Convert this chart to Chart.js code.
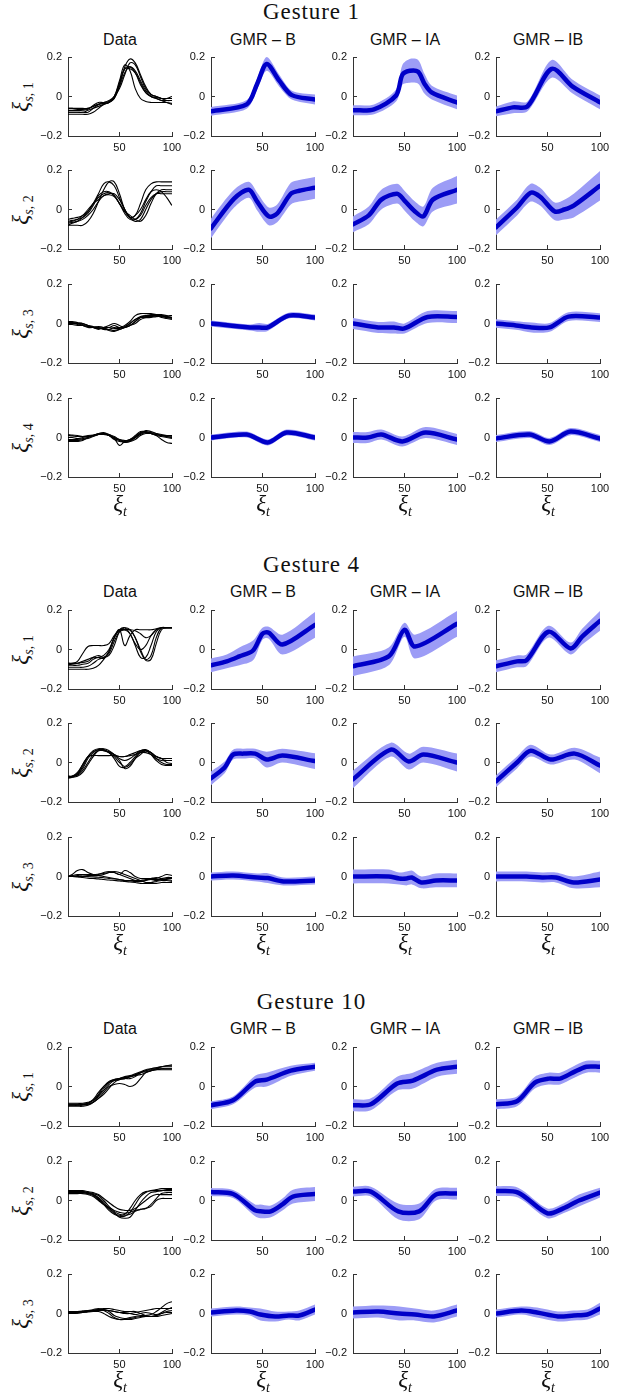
<!DOCTYPE html>
<html><head><meta charset="utf-8">
<script src="https://cdn.jsdelivr.net/npm/chart.js@4"></script>
<style>
body{margin:0;background:#fff;}
#page{position:relative;width:623px;height:1397px;overflow:hidden;background:#fff;}
canvas{position:absolute;}
.gt{position:absolute;font-family:'Liberation Serif','DejaVu Serif',serif;font-size:23px;letter-spacing:0.9px;transform:translate(-50%,-50%);white-space:nowrap;color:#111;}
.ct{position:absolute;font-family:'Liberation Sans',Arial,sans-serif;font-size:16px;transform:translate(-50%,-50%);white-space:nowrap;color:#111;}
.yl{position:absolute;font-family:'Liberation Serif',serif;font-size:23px;transform:translate(-50%,-50%) rotate(-90deg);white-space:nowrap;color:#111;line-height:24px;}
.xl{position:absolute;font-family:'Liberation Serif',serif;font-size:23px;transform:translate(-50%,-50%);white-space:nowrap;color:#111;line-height:24px;}
.sub{font-size:14px;position:relative;top:5px;font-style:normal;}
i{font-style:italic;}
</style></head>
<body><div id="page"></div>
<script>
// ---------- shared axis values ----------
const XTICKS = [50, 100];
const YTICKS = [-0.2, 0, 0.2];
const COLUMNS = ['Data', 'GMR \u2013 B', 'GMR \u2013 IA', 'GMR \u2013 IB'];
const GESTURES = ['Gesture 1', 'Gesture 4', 'Gesture 10'];
const DX = [1,5,10,15,20,25,30,35,40,45,50,55,60,65,70,75,80,85,90,95,100];

// ---------- Gesture 1 demonstrations ----------
const G1_DATA_1 = [
 [-0.06,-0.06,-0.06,-0.06,-0.06,-0.05,-0.04,-0.035,-0.03,-0.01,0.06,0.15,0.19,0.17,0.11,0.05,0.01,0.0,-0.01,-0.01,-0.01],
 [-0.08,-0.08,-0.08,-0.08,-0.08,-0.06,-0.04,-0.03,-0.025,0.0,0.08,0.16,0.13,0.04,-0.01,-0.025,-0.03,-0.03,-0.03,-0.03,-0.035],
 [-0.09,-0.09,-0.09,-0.09,-0.09,-0.08,-0.06,-0.04,-0.03,-0.01,0.05,0.12,0.15,0.13,0.08,0.03,0.0,-0.01,-0.02,-0.02,-0.02],
 [-0.07,-0.07,-0.07,-0.07,-0.065,-0.045,-0.03,-0.03,-0.02,0.0,0.07,0.14,0.14,0.12,0.07,0.02,0.0,-0.01,-0.02,-0.03,-0.04],
 [-0.08,-0.08,-0.08,-0.08,-0.07,-0.06,-0.05,-0.04,-0.03,0.0,0.04,0.11,0.17,0.16,0.10,0.04,0.01,0.0,-0.01,-0.02,-0.02],
 [-0.06,-0.06,-0.065,-0.065,-0.06,-0.05,-0.04,-0.035,-0.03,-0.005,0.06,0.14,0.15,0.12,0.06,0.02,0.0,-0.005,-0.01,-0.01,0.0]
];
const G1_DATA_2 = [
 [-0.08,-0.08,-0.08,-0.08,-0.06,-0.02,0.04,0.10,0.14,0.14,0.08,0.0,-0.04,-0.03,0.03,0.10,0.13,0.14,0.14,0.14,0.14],
 [-0.05,-0.045,-0.04,-0.03,-0.01,0.03,0.06,0.08,0.085,0.07,0.03,-0.02,-0.05,-0.05,-0.02,0.04,0.09,0.12,0.12,0.12,0.12],
 [-0.06,-0.055,-0.05,-0.04,-0.02,0.02,0.07,0.09,0.09,0.07,0.03,-0.01,-0.03,-0.05,-0.06,-0.03,0.03,0.08,0.10,0.10,0.10],
 [-0.07,-0.065,-0.06,-0.05,-0.03,0.0,0.04,0.07,0.08,0.08,0.05,0.0,-0.04,-0.06,-0.05,0.0,0.05,0.08,0.09,0.09,0.09],
 [-0.08,-0.07,-0.06,-0.04,-0.01,0.03,0.08,0.13,0.14,0.12,0.06,0.0,-0.04,-0.03,0.0,0.05,0.09,0.10,0.09,0.06,0.02],
 [-0.065,-0.06,-0.05,-0.03,0.0,0.03,0.05,0.07,0.075,0.065,0.03,-0.01,-0.04,-0.05,-0.03,0.02,0.06,0.08,0.08,0.08,0.08]
];
const G1_DATA_3 = [
 [0.005,0.005,0.0,-0.005,-0.01,-0.02,-0.025,-0.02,-0.02,-0.01,-0.02,-0.01,0.01,0.04,0.05,0.05,0.05,0.045,0.045,0.04,0.04],
 [0.0,0.0,-0.005,-0.01,-0.015,-0.02,-0.02,-0.025,-0.03,-0.035,-0.03,-0.02,-0.01,0.01,0.03,0.035,0.035,0.04,0.04,0.035,0.03],
 [0.01,0.01,0.005,0.0,-0.01,-0.02,-0.03,-0.02,-0.01,0.0,-0.01,-0.02,-0.01,0.0,0.02,0.03,0.035,0.04,0.04,0.03,0.03],
 [0.0,0.0,0.0,-0.01,-0.02,-0.02,-0.015,-0.02,-0.035,-0.04,-0.03,-0.02,-0.01,0.01,0.03,0.04,0.04,0.04,0.03,0.025,0.02],
 [0.005,0.005,0.0,0.0,-0.01,-0.015,-0.02,-0.03,-0.03,-0.02,-0.02,-0.02,0.0,0.02,0.035,0.04,0.045,0.045,0.04,0.035,0.03],
 [-0.005,-0.005,-0.01,-0.01,-0.015,-0.02,-0.025,-0.025,-0.02,-0.025,-0.025,-0.015,0.0,0.02,0.03,0.03,0.03,0.035,0.035,0.03,0.025]
];
const G1_DATA_4 = [
 [0.015,0.012,0.01,0.005,0.005,0.01,0.02,0.02,0.01,-0.01,-0.02,-0.02,-0.01,0.01,0.03,0.03,0.02,0.015,0.01,0.005,0.0],
 [-0.02,-0.02,-0.02,-0.015,0.0,0.01,0.015,0.02,0.01,-0.005,-0.04,-0.02,-0.01,0.0,0.02,0.025,0.02,0.01,-0.01,-0.025,-0.03],
 [0.0,0.0,-0.005,0.0,0.005,0.01,0.015,0.02,0.01,-0.005,-0.015,-0.025,-0.015,0.005,0.025,0.03,0.025,0.02,0.015,0.01,0.005],
 [-0.01,-0.01,-0.01,-0.005,0.0,0.01,0.02,0.025,0.015,0.0,-0.015,-0.025,-0.02,0.0,0.02,0.035,0.03,0.02,0.01,0.005,0.0],
 [0.01,0.008,0.005,0.005,0.01,0.012,0.015,0.015,0.012,0.0,-0.01,-0.02,-0.02,-0.01,0.01,0.02,0.02,0.015,0.01,0.01,0.01],
 [-0.015,-0.015,-0.015,-0.01,-0.005,0.005,0.015,0.02,0.015,0.005,-0.01,-0.015,-0.015,0.0,0.015,0.025,0.02,0.01,0.005,0.0,-0.005]
];
// GMR results: per row [knot x, mean, half-width of band]
const G1_B = [
 [[1,35,45,54,66,78,100],[-0.075,-0.04,0.065,0.165,0.08,0.007,-0.015],[0.022,0.022,0.028,0.035,0.03,0.022,0.025]],
 [[1,23,37,45,56,64,77,85,100],[-0.095,0.055,0.10,0.04,-0.035,-0.02,0.08,0.095,0.11],[0.05,0.045,0.04,0.045,0.045,0.045,0.055,0.055,0.055]],
 [[1,38,47,55,75,100],[0.0,-0.02,-0.02,-0.02,0.04,0.03],[0.015,0.015,0.022,0.018,0.015,0.015]],
 [[1,35,55,73,100],[0.0,0.015,-0.025,0.025,0.0],[0.015,0.015,0.015,0.015,0.015]]
];
const G1_IA = [
 [[1,21,42,48,55,63,69,76,100],[-0.07,-0.065,0.005,0.11,0.13,0.125,0.065,0.02,-0.03],[0.025,0.025,0.03,0.05,0.06,0.06,0.05,0.035,0.035]],
 [[1,16,28,43,50,60,68,77,100],[-0.075,-0.03,0.05,0.08,0.045,-0.01,-0.035,0.05,0.10],[0.04,0.045,0.05,0.05,0.05,0.05,0.05,0.06,0.07]],
 [[1,25,40,50,72,100],[0.0,-0.02,-0.02,-0.025,0.033,0.033],[0.028,0.028,0.03,0.025,0.03,0.03]],
 [[1,15,28,48,70,100],[0.0,0.0,0.015,-0.02,0.025,-0.01],[0.028,0.028,0.025,0.025,0.028,0.028]]
];
const G1_IB = [
 [[1,17,31,54,74,100],[-0.075,-0.055,-0.05,0.14,0.05,-0.03],[0.025,0.03,0.025,0.045,0.035,0.035]],
 [[1,21,34,43,57,66,75,100],[-0.09,0.01,0.085,0.065,-0.01,0.0,0.02,0.12],[0.04,0.04,0.045,0.045,0.045,0.05,0.06,0.075]],
 [[1,20,35,52,70,100],[0.0,-0.01,-0.02,-0.02,0.035,0.03],[0.022,0.022,0.025,0.022,0.022,0.022]],
 [[1,33,52,72,100],[-0.005,0.015,-0.02,0.03,-0.005],[0.018,0.018,0.018,0.018,0.018]]
];

// ---------- Gesture 4 ----------
const G4_DATA_1 = [
 [-0.07,-0.07,-0.06,-0.02,0.015,0.02,0.02,0.02,0.03,0.07,0.10,0.10,0.10,0.095,0.08,0.06,0.07,0.10,0.11,0.11,0.11],
 [-0.10,-0.10,-0.10,-0.10,-0.10,-0.095,-0.08,-0.05,-0.01,0.06,0.10,0.02,0.07,0.10,0.10,0.10,0.10,0.105,0.11,0.11,0.11],
 [-0.07,-0.07,-0.07,-0.065,-0.06,-0.04,-0.03,-0.04,-0.03,0.02,0.09,0.11,0.10,0.06,0.0,-0.05,-0.03,0.06,0.11,0.11,0.11],
 [-0.08,-0.08,-0.08,-0.075,-0.07,-0.05,-0.04,-0.045,-0.01,0.06,0.10,0.10,0.08,0.02,-0.04,-0.04,0.02,0.09,0.11,0.11,0.11],
 [-0.09,-0.09,-0.09,-0.09,-0.085,-0.07,-0.05,-0.04,-0.02,0.04,0.09,0.10,0.10,0.06,-0.01,-0.055,-0.05,0.03,0.10,0.11,0.11],
 [-0.075,-0.075,-0.07,-0.06,-0.05,-0.04,-0.04,-0.03,0.0,0.06,0.10,0.11,0.08,0.03,0.0,0.02,0.07,0.10,0.11,0.11,0.11]
];
const G4_DATA_2 = [
 [-0.07,-0.07,-0.06,-0.02,0.03,0.06,0.07,0.065,0.05,0.03,0.0,-0.02,0.0,0.03,0.055,0.06,0.05,0.03,0.02,0.02,0.02],
 [-0.08,-0.075,-0.06,-0.03,0.02,0.05,0.065,0.07,0.06,0.04,0.01,-0.03,-0.02,0.02,0.05,0.06,0.04,0.01,-0.01,-0.015,-0.015],
 [-0.075,-0.07,-0.055,-0.01,0.03,0.035,0.035,0.035,0.035,0.035,0.03,0.03,0.035,0.04,0.05,0.05,0.04,0.02,0.01,0.01,0.01],
 [-0.07,-0.07,-0.05,-0.01,0.03,0.055,0.065,0.06,0.05,0.04,0.03,0.03,0.04,0.05,0.06,0.06,0.05,0.03,0.02,0.02,0.02],
 [-0.075,-0.075,-0.07,-0.05,-0.01,0.03,0.06,0.065,0.05,0.02,-0.02,-0.025,-0.01,0.02,0.04,0.06,0.05,0.02,0.0,-0.01,-0.01],
 [-0.07,-0.07,-0.065,-0.04,0.0,0.04,0.06,0.06,0.055,0.04,0.02,0.01,0.02,0.04,0.06,0.065,0.05,0.03,0.02,0.0,-0.005]
];
const G4_DATA_3 = [
 [0.0,0.01,0.03,0.035,0.02,0.01,0.005,0.0,-0.005,-0.01,-0.015,-0.02,-0.02,-0.02,-0.025,-0.02,-0.01,-0.01,0.0,0.01,0.005],
 [0.0,0.0,0.0,0.0,0.005,0.005,0.01,0.02,0.025,0.02,0.01,0.03,0.02,0.0,-0.01,-0.01,-0.01,-0.005,-0.01,-0.005,-0.005],
 [0.0,0.0,-0.002,-0.005,-0.008,-0.01,-0.012,-0.015,-0.018,-0.02,-0.022,-0.025,-0.028,-0.03,-0.035,-0.035,-0.035,-0.035,-0.03,-0.03,-0.03],
 [0.0,0.002,0.005,0.008,0.01,0.01,0.012,0.015,0.02,0.02,0.01,0.0,-0.01,-0.02,-0.02,-0.015,-0.015,-0.02,-0.015,-0.01,-0.01],
 [0.0,0.0,0.0,0.0,0.0,-0.002,-0.004,-0.006,-0.01,-0.012,-0.015,-0.02,-0.022,-0.025,-0.025,-0.02,-0.015,-0.015,-0.015,-0.015,-0.02],
 [0.0,0.005,0.01,0.01,0.008,0.005,0.005,0.01,0.02,0.025,0.02,0.01,0.0,-0.01,-0.02,-0.03,-0.03,-0.025,-0.02,-0.02,-0.025]
];
const G4_B = [
 [[1,16,28,41,50,56,69,100],[-0.08,-0.06,-0.035,-0.005,0.08,0.085,0.025,0.125],[0.035,0.035,0.045,0.05,0.03,0.03,0.05,0.065]],
 [[1,14,22,32,43,54,69,100],[-0.08,-0.025,0.04,0.045,0.045,0.015,0.035,0.007],[0.035,0.03,0.025,0.025,0.025,0.04,0.035,0.04]],
 [[1,22,45,55,70,100],[0.0,0.005,-0.005,-0.008,-0.025,-0.02],[0.02,0.02,0.02,0.025,0.02,0.02]]
];
const G4_IA = [
 [[1,35,50,60,100],[-0.085,-0.035,0.10,0.015,0.13],[0.05,0.045,0.035,0.06,0.065]],
 [[1,37,54,68,100],[-0.085,0.065,0.005,0.04,0.0],[0.045,0.035,0.04,0.04,0.045]],
 [[1,35,45,52,57,66,80,100],[0.0,0.0,-0.01,-0.01,-0.005,-0.03,-0.02,-0.02],[0.035,0.035,0.03,0.035,0.035,0.03,0.035,0.035]]
];
const G4_IB = [
 [[1,21,30,51,72,83,100],[-0.085,-0.06,-0.055,0.09,0.005,0.065,0.145],[0.03,0.03,0.03,0.03,0.03,0.04,0.05]],
 [[1,21,34,53,76,100],[-0.095,0.0,0.06,0.015,0.045,-0.015],[0.03,0.03,0.03,0.025,0.03,0.04]],
 [[1,30,45,58,75,100],[0.0,0.0,-0.005,-0.005,-0.03,-0.015],[0.025,0.025,0.025,0.025,0.03,0.04]]
];

// ---------- Gesture 10 ----------
const G10_DATA_1 = [
 [-0.09,-0.09,-0.09,-0.09,-0.085,-0.07,-0.04,0.0,0.02,0.03,0.04,0.045,0.05,0.06,0.07,0.08,0.09,0.095,0.10,0.105,0.11],
 [-0.10,-0.10,-0.10,-0.10,-0.095,-0.08,-0.05,-0.02,0.01,0.03,0.035,0.04,0.05,0.06,0.07,0.075,0.08,0.085,0.09,0.09,0.09],
 [-0.085,-0.085,-0.085,-0.085,-0.08,-0.07,-0.045,-0.01,0.02,0.035,0.04,0.045,0.05,0.055,0.06,0.07,0.08,0.09,0.10,0.105,0.105],
 [-0.095,-0.095,-0.095,-0.095,-0.09,-0.08,-0.06,-0.03,0.0,0.01,0.015,0.01,0.0,0.01,0.04,0.07,0.08,0.085,0.085,0.085,0.085],
 [-0.09,-0.09,-0.09,-0.09,-0.09,-0.08,-0.06,-0.04,-0.01,0.02,0.035,0.04,0.04,0.05,0.07,0.08,0.085,0.09,0.09,0.09,0.09],
 [-0.095,-0.095,-0.095,-0.09,-0.085,-0.065,-0.03,0.0,0.025,0.035,0.04,0.05,0.055,0.065,0.075,0.085,0.09,0.095,0.10,0.10,0.10]
];
const G10_DATA_2 = [
 [0.045,0.045,0.045,0.045,0.04,0.03,0.01,-0.02,-0.05,-0.07,-0.08,-0.08,-0.06,-0.02,0.02,0.04,0.05,0.055,0.06,0.06,0.06],
 [0.04,0.04,0.04,0.04,0.035,0.025,0.005,-0.02,-0.04,-0.06,-0.085,-0.09,-0.085,-0.05,-0.01,0.02,0.04,0.045,0.05,0.05,0.05],
 [0.05,0.05,0.05,0.05,0.045,0.04,0.03,0.01,-0.01,-0.03,-0.045,-0.05,-0.05,-0.04,-0.02,0.0,0.02,0.03,0.03,0.03,0.03],
 [0.035,0.035,0.035,0.035,0.03,0.02,0.0,-0.02,-0.035,-0.05,-0.06,-0.065,-0.06,-0.05,-0.045,-0.04,-0.03,0.0,0.01,0.01,0.01],
 [0.045,0.045,0.045,0.045,0.04,0.035,0.025,0.0,-0.03,-0.055,-0.07,-0.075,-0.07,-0.055,-0.045,-0.04,-0.02,0.01,0.035,0.04,0.04],
 [0.04,0.04,0.04,0.04,0.035,0.03,0.015,-0.01,-0.04,-0.065,-0.075,-0.07,-0.04,0.0,0.03,0.045,0.05,0.05,0.05,0.055,0.055]
];
const G10_DATA_3 = [
 [0.01,0.01,0.01,0.012,0.015,0.02,0.025,0.02,0.015,0.01,0.005,0.0,0.0,0.005,0.01,0.015,0.02,0.025,0.025,0.025,0.025],
 [0.005,0.005,0.005,0.008,0.01,0.015,0.02,0.02,0.01,-0.01,-0.02,-0.025,-0.02,-0.015,-0.01,-0.01,-0.005,0.01,0.03,0.05,0.06],
 [0.0,0.0,0.002,0.005,0.01,0.015,0.02,0.015,0.0,-0.02,-0.03,-0.03,-0.025,-0.02,-0.015,-0.015,-0.015,-0.01,0.0,0.005,0.005],
 [0.008,0.008,0.01,0.012,0.015,0.015,0.02,0.025,0.025,0.02,0.015,0.01,0.01,0.01,0.0,-0.01,-0.015,-0.01,0.0,0.01,0.015],
 [0.0,0.0,0.002,0.005,0.008,0.01,0.01,0.0,-0.015,-0.025,-0.03,-0.03,-0.03,-0.025,-0.02,-0.015,-0.015,-0.015,-0.01,-0.005,0.0],
 [0.01,0.01,0.01,0.01,0.012,0.015,0.015,0.015,0.015,0.01,0.005,0.005,0.0,-0.005,0.0,0.005,0.0,-0.005,0.005,0.02,0.03]
];
const G10_B = [
 [[1,22,43,54,77,100],[-0.095,-0.07,0.025,0.035,0.08,0.10],[0.02,0.02,0.03,0.035,0.025,0.02]],
 [[1,22,43,48,58,69,79,100],[0.043,0.033,-0.05,-0.055,-0.055,-0.02,0.02,0.033],[0.02,0.02,0.03,0.035,0.03,0.03,0.035,0.035]],
 [[1,25,38,48,62,75,85,100],[0.005,0.015,0.01,-0.005,-0.015,-0.01,-0.01,0.02],[0.02,0.02,0.02,0.03,0.025,0.02,0.025,0.025]]
];
const G10_IA = [
 [[1,18,43,58,81,100],[-0.095,-0.09,0.015,0.03,0.085,0.10],[0.03,0.03,0.035,0.04,0.035,0.035]],
 [[1,18,44,64,80,100],[0.045,0.045,-0.055,-0.055,0.03,0.035],[0.025,0.025,0.04,0.04,0.03,0.03]],
 [[1,25,45,60,78,100],[0.005,0.01,0.0,-0.005,-0.015,0.015],[0.03,0.03,0.035,0.03,0.03,0.03]]
];
const G10_IB = [
 [[1,21,38,51,62,74,87,100],[-0.09,-0.075,0.02,0.04,0.04,0.07,0.10,0.10],[0.025,0.025,0.03,0.03,0.03,0.03,0.03,0.03]],
 [[1,22,50,65,80,100],[0.048,0.04,-0.065,-0.04,0.0,0.04],[0.025,0.025,0.025,0.025,0.03,0.025]],
 [[1,25,40,60,75,88,100],[0.0,0.015,0.005,-0.015,-0.01,-0.005,0.025],[0.02,0.02,0.025,0.025,0.025,0.025,0.03]]
];

// ---------- layout (positions only) ----------
const PLOT_W = 104, PLOT_H = 79;
const COL_X = [68, 211, 353, 496];
const YW = 40, PT = 20, PR = 26, XH = 24;
const LAYOUT = [
 {title: 12, colTitle: 40, rows: [57, 170, 284, 398]},
 {title: 565, colTitle: 592, rows: [610, 723, 837]},
 {title: 1002, colTitle: 1029, rows: [1047, 1161, 1274]}
];
const BAND = '#9c9cf6', MEAN = '#0000c8', AXIS = '#333333';

const GESTURE_SETS = [
 {data: [G1_DATA_1, G1_DATA_2, G1_DATA_3, G1_DATA_4], models: [G1_B, G1_IA, G1_IB]},
 {data: [G4_DATA_1, G4_DATA_2, G4_DATA_3], models: [G4_B, G4_IA, G4_IB]},
 {data: [G10_DATA_1, G10_DATA_2, G10_DATA_3], models: [G10_B, G10_IA, G10_IB]}
];

Chart.defaults.font.family = "'Liberation Sans', Arial, sans-serif";
Chart.defaults.font.size = 11;
Chart.defaults.color = '#111';

const page = document.getElementById('page');
function addText(cls, html, x, y) {
  const d = document.createElement('div');
  d.className = cls; d.innerHTML = html;
  d.style.left = x + 'px'; d.style.top = y + 'px';
  page.appendChild(d);
}
function pts(xs, ys) { return xs.map((x, i) => ({x: x, y: ys[i]})); }

function panel(left, top, datasets) {
  const c = document.createElement('canvas');
  c.width = YW + PLOT_W + PR; c.height = PT + PLOT_H + XH;
  c.style.left = (left - YW) + 'px'; c.style.top = (top - PT) + 'px';
  c.style.width = c.width + 'px'; c.style.height = c.height + 'px';
  page.appendChild(c);
  new Chart(c, {
    type: 'line',
    data: {datasets: datasets},
    options: {
      responsive: false, animation: false, devicePixelRatio: 1,
      layout: {padding: {top: PT, right: PR, left: 0, bottom: 0}},
      plugins: {legend: {display: false}, tooltip: {enabled: false}},
      elements: {point: {radius: 0}},
      scales: {
        x: {
          type: 'linear', min: 1, max: 100,
          afterBuildTicks: s => { s.ticks = XTICKS.map(v => ({value: v})); },
          afterFit: s => { s.height = XH; },
          ticks: {autoSkip: false, maxRotation: 0, padding: 9, callback: v => String(v)},
          grid: {drawOnChartArea: false, drawTicks: true, tickLength: -4, color: AXIS},
          border: {display: true, color: AXIS, width: 1}
        },
        y: {
          type: 'linear', min: -0.2, max: 0.2,
          afterBuildTicks: s => { s.ticks = YTICKS.map(v => ({value: v})); },
          afterFit: s => { s.width = YW; },
          ticks: {autoSkip: false, padding: 10, callback: v => (v < 0 ? '\u2212' : '') + String(Math.abs(v))},
          grid: {drawOnChartArea: false, drawTicks: true, tickLength: -4, color: AXIS},
          border: {display: true, color: AXIS, width: 1}
        }
      }
    }
  });
}

GESTURE_SETS.forEach((g, gi) => {
  const L = LAYOUT[gi];
  addText('gt', GESTURES[gi], 311.5, L.title);
  COLUMNS.forEach((name, ci) => addText('ct', name, COL_X[ci] + PLOT_W / 2, L.colTitle));
  L.rows.forEach((top, ri) => {
    addText('yl', '<i>\u03BE</i><span class="sub"><i>s</i>, ' + (ri + 1) + '</span>', 22, top + PLOT_H / 2);
    // data column
    panel(COL_X[0], top, g.data[ri].map(curve => ({
      data: pts(DX, curve), borderColor: '#000', borderWidth: 1.1, tension: 0.4, fill: false
    })));
    // model columns
    g.models.forEach((model, mi) => {
      const [xs, m, s] = model[ri];
      panel(COL_X[mi + 1], top, [
        {data: pts(xs, m.map((v, i) => v + s[i])), borderWidth: 0, borderColor: 'rgba(0,0,0,0)', backgroundColor: BAND, fill: '+1', tension: 0.3, order: 2},
        {data: pts(xs, m.map((v, i) => v - s[i])), borderWidth: 0, borderColor: 'rgba(0,0,0,0)', fill: false, tension: 0.3, order: 2},
        {data: pts(xs, m), borderColor: MEAN, borderWidth: 4.5, tension: 0.3, fill: false, order: 1, borderCapStyle: 'round', borderJoinStyle: 'round'}
      ]);
    });
  });
  const bottom = L.rows[L.rows.length - 1] + PLOT_H;
  COL_X.forEach(x => addText('xl', '<i>\u03BE</i><span class="sub"><i>t</i></span>', x + PLOT_W / 2, bottom + 28));
});
</script>
</body></html>
